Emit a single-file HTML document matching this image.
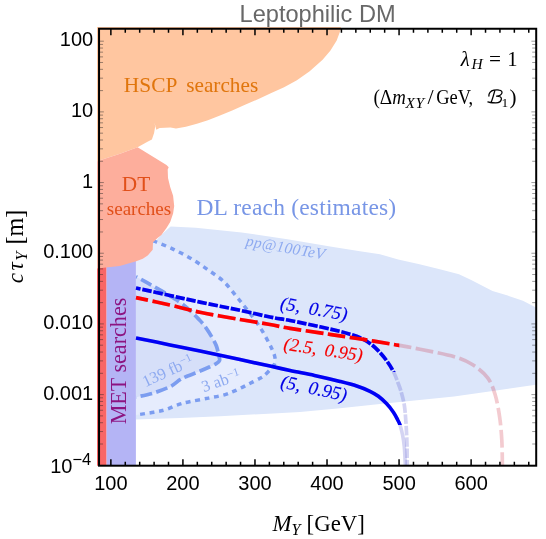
<!DOCTYPE html>
<html><head><meta charset="utf-8"><title>Leptophilic DM</title>
<style>html,body{margin:0;padding:0;background:#fff;}svg{display:block;will-change:transform;}text{white-space:pre;}</style>
</head><body>
<svg width="546" height="539" viewBox="0 0 546 539">
<defs><clipPath id="cp"><rect x="97" y="27" width="439.2" height="438.7"/></clipPath></defs>
<g clip-path="url(#cp)">
<path d="M136.0,262.0 L150.0,248.0 L160.0,236.0 L170.6,226.4 L195.8,227.8 L241.6,232.4 L287.4,239.3 L333.2,247.0 L360.0,251.2 L380.0,254.3 L398.2,259.6 L419.5,264.3 L440.8,269.5 L459.0,274.3 L471.2,280.1 L483.3,286.2 L492.5,291.1 L507.7,295.6 L522.9,300.8 L535.0,306.9 L542.0,310.5 L542.0,383.7 L534.0,384.9 L491.0,391.2 L454.0,396.5 L417.0,400.2 L380.0,404.0 L340.0,408.3 L300.0,412.0 L273.0,413.5 L220.0,416.2 L180.0,418.0 L136.0,419.6 Z" fill="#dce6fa"/>
<path d="M153.0,241.0 C153.4,241.1 151.8,240.1 155.2,241.5 C158.6,242.9 167.3,246.4 173.4,249.3 C179.5,252.2 185.8,255.4 191.6,258.9 C197.4,262.4 203.0,266.3 208.4,270.1 C213.8,273.9 219.2,277.3 224.0,281.8 C228.8,286.3 233.8,293.4 237.0,297.3 C240.2,301.2 239.8,300.3 243.5,305.1 C247.2,309.9 254.8,319.4 259.1,325.9 C263.4,332.4 267.0,339.3 269.5,344.1 C272.0,348.9 273.2,351.5 274.2,354.5 C275.1,357.5 275.6,360.1 275.2,362.3 C274.8,364.5 273.8,365.3 272.0,367.5 C270.2,369.7 266.3,373.7 264.3,375.5 C262.3,377.3 262.6,376.9 260.0,378.3 C257.4,379.7 252.8,382.0 249.0,383.9 C245.2,385.8 241.1,388.0 237.1,389.8 C233.1,391.6 229.9,393.2 225.2,394.6 C220.4,396.0 214.5,396.9 208.6,398.1 C202.7,399.3 194.7,400.6 189.5,401.7 C184.3,402.8 181.6,403.5 177.6,404.8 C173.6,406.1 169.7,408.4 165.7,409.6 C161.7,410.8 158.8,411.3 153.8,412.2 C148.9,413.1 139.0,414.5 136.0,415.0 L135.8,255 Z" fill="#e6ecfd"/>
<path d="M136.0,276.7 C138.3,278.0 145.1,281.6 150.0,284.4 C154.9,287.2 160.0,289.9 165.6,293.4 C171.2,296.8 178.2,300.7 183.8,305.1 C189.5,309.5 195.8,316.2 199.5,320.0 C203.2,323.8 203.8,324.8 206.0,327.8 C208.2,330.8 210.8,335.2 212.5,338.2 C214.2,341.2 215.3,343.0 216.4,346.0 C217.5,349.0 218.5,354.0 219.0,356.4 C219.5,358.8 220.0,359.1 219.6,360.3 C219.2,361.5 218.0,362.4 216.4,363.5 C214.8,364.6 212.7,365.5 209.9,366.8 C207.1,368.1 203.4,369.7 199.5,371.3 C195.6,372.9 189.8,375.1 186.5,376.5 C183.2,377.9 182.7,378.1 180.0,379.7 C177.3,381.3 174.9,384.2 170.5,386.4 C166.1,388.6 159.6,391.1 153.8,392.9 C148.1,394.7 139.0,396.4 136.0,397.1 Z" fill="#d6dff9"/>
<path d="M153.0,241.0 C153.4,241.1 151.8,240.1 155.2,241.5 C158.6,242.9 167.3,246.4 173.4,249.3 C179.5,252.2 185.8,255.4 191.6,258.9 C197.4,262.4 203.0,266.3 208.4,270.1 C213.8,273.9 219.2,277.3 224.0,281.8 C228.8,286.3 233.8,293.4 237.0,297.3 C240.2,301.2 239.8,300.3 243.5,305.1 C247.2,309.9 254.8,319.4 259.1,325.9 C263.4,332.4 267.0,339.3 269.5,344.1 C272.0,348.9 273.2,351.5 274.2,354.5 C275.1,357.5 275.6,360.1 275.2,362.3 C274.8,364.5 273.8,365.3 272.0,367.5 C270.2,369.7 266.3,373.7 264.3,375.5 C262.3,377.3 262.6,376.9 260.0,378.3 C257.4,379.7 252.8,382.0 249.0,383.9 C245.2,385.8 241.1,388.0 237.1,389.8 C233.1,391.6 229.9,393.2 225.2,394.6 C220.4,396.0 214.5,396.9 208.6,398.1 C202.7,399.3 194.7,400.6 189.5,401.7 C184.3,402.8 181.6,403.5 177.6,404.8 C173.6,406.1 169.7,408.4 165.7,409.6 C161.7,410.8 158.8,411.3 153.8,412.2 C148.9,413.1 139.0,414.5 136.0,415.0" fill="none" stroke="#7c9df0" stroke-width="3.5" stroke-dasharray="4.8 4.7"/>
<path d="M136.0,276.7 C138.3,278.0 145.1,281.6 150.0,284.4 C154.9,287.2 160.0,289.9 165.6,293.4 C171.2,296.8 178.2,300.7 183.8,305.1 C189.5,309.5 195.8,316.2 199.5,320.0 C203.2,323.8 203.8,324.8 206.0,327.8 C208.2,330.8 210.8,335.2 212.5,338.2 C214.2,341.2 215.3,343.0 216.4,346.0 C217.5,349.0 218.5,354.0 219.0,356.4 C219.5,358.8 220.0,359.1 219.6,360.3 C219.2,361.5 218.0,362.4 216.4,363.5 C214.8,364.6 212.7,365.5 209.9,366.8 C207.1,368.1 203.4,369.7 199.5,371.3 C195.6,372.9 189.8,375.1 186.5,376.5 C183.2,377.9 182.7,378.1 180.0,379.7 C177.3,381.3 174.9,384.2 170.5,386.4 C166.1,388.6 159.6,391.1 153.8,392.9 C148.1,394.7 139.0,396.4 136.0,397.1" fill="none" stroke="#7c9df0" stroke-width="3.7" stroke-dasharray="11.6 4.5" stroke-dashoffset="10.2"/>
<rect x="96" y="262" width="10.6" height="210" fill="#f96666"/>
<rect x="106.6" y="255" width="29.3" height="215" fill="#b4b4f5"/>
<path d="M96.0,20.0 L342.0,20.0 L340.8,28.0 L340.5,30.3 L336.7,40.5 L330.3,50.8 L322.6,59.7 L309.7,71.3 L296.9,80.3 L284.1,87.2 L271.3,93.1 L258.5,99.0 L245.6,104.6 L232.8,110.3 L220.0,115.4 L207.9,120.2 L196.9,123.7 L185.9,126.8 L176.0,128.6 L170.5,127.5 L159.6,128.1 L156.3,129.7 L154.5,122.6 L155.2,126.4 L154.1,133.0 L151.9,139.6 L147.5,141.8 L137.6,147.3 L120.0,153.8 L110.0,157.0 L96.0,161.5 Z" fill="#ffc6a0"/>
<path d="M96.0,161.5 L110.0,157.0 L120.0,153.8 L137.6,147.3 L166.5,165.0 L168.7,167.2 L167.7,169.4 L168.0,178.0 L170.2,187.0 L173.1,195.8 L174.2,206.0 L173.1,213.4 L170.2,222.1 L166.5,228.0 L161.4,235.0 L157.6,238.1 L153.0,242.2 L152.7,249.7 L147.7,255.4 L142.8,258.7 L136.2,261.2 L119.7,266.1 L96.0,268.6 Z" fill="#fdae9c"/>
<clipPath id="cbs"><rect x="90" y="20" width="460" height="404.9"/></clipPath>
<clipPath id="cbd"><rect x="90" y="20" width="460" height="351.9"/></clipPath>
<clipPath id="crd"><rect x="90" y="20" width="309.3" height="460"/></clipPath>
<path d="M136.0,338.0 C141.7,339.1 159.3,342.7 170.0,344.9 C180.7,347.1 188.3,348.6 200.0,351.0 C211.7,353.4 228.3,357.1 240.0,359.6 C251.7,362.1 261.7,364.3 270.0,366.1 C278.3,367.9 282.6,368.9 290.0,370.5 C297.4,372.1 306.2,373.6 314.5,375.4 C322.8,377.2 333.0,379.6 340.0,381.4 C347.0,383.2 351.7,384.4 356.7,386.0 C361.7,387.6 366.4,389.6 370.0,391.3 C373.6,393.0 375.6,394.2 378.4,396.3 C381.2,398.4 384.2,401.2 386.7,403.8 C389.2,406.4 391.6,409.6 393.4,412.2 C395.2,414.8 396.5,417.5 397.6,419.7 C398.7,421.9 399.3,422.6 400.1,425.2 C400.9,427.8 401.9,431.6 402.6,435.2 C403.3,438.8 403.8,441.6 404.3,446.9 C404.8,452.2 405.2,463.6 405.4,467.0" fill="none" stroke="#3c3cc8" stroke-opacity="0.22" stroke-width="3.6"/>
<path d="M136.0,338.0 C141.7,339.1 159.3,342.7 170.0,344.9 C180.7,347.1 188.3,348.6 200.0,351.0 C211.7,353.4 228.3,357.1 240.0,359.6 C251.7,362.1 261.7,364.3 270.0,366.1 C278.3,367.9 282.6,368.9 290.0,370.5 C297.4,372.1 306.2,373.6 314.5,375.4 C322.8,377.2 333.0,379.6 340.0,381.4 C347.0,383.2 351.7,384.4 356.7,386.0 C361.7,387.6 366.4,389.6 370.0,391.3 C373.6,393.0 375.6,394.2 378.4,396.3 C381.2,398.4 384.2,401.2 386.7,403.8 C389.2,406.4 391.6,409.6 393.4,412.2 C395.2,414.8 396.5,417.5 397.6,419.7 C398.7,421.9 399.3,422.6 400.1,425.2 C400.9,427.8 401.9,431.6 402.6,435.2 C403.3,438.8 403.8,441.6 404.3,446.9 C404.8,452.2 405.2,463.6 405.4,467.0" fill="none" stroke="#0000f5" stroke-width="3.6" clip-path="url(#cbs)"/>
<path d="M136.0,288.0 C141.7,289.2 159.3,293.1 170.0,295.5 C180.7,297.9 188.3,299.6 200.0,302.1 C211.7,304.6 228.3,307.8 240.0,310.3 C251.7,312.8 261.7,315.3 270.0,317.0 C278.3,318.7 281.7,318.9 290.0,320.5 C298.3,322.1 311.7,325.0 320.0,326.8 C328.3,328.6 335.0,330.2 340.0,331.4 C345.0,332.6 346.7,333.2 350.0,334.2 C353.3,335.2 356.7,336.1 360.0,337.6 C363.3,339.1 366.9,341.2 370.0,343.4 C373.1,345.6 375.6,348.0 378.4,350.9 C381.2,353.8 384.3,357.5 386.8,360.9 C389.3,364.3 391.6,368.0 393.4,371.5 C395.2,375.0 396.4,378.6 397.6,381.8 C398.9,385.1 399.8,387.1 400.9,391.0 C402.0,394.9 403.5,400.0 404.3,405.1 C405.1,410.2 405.4,414.8 405.9,421.8 C406.4,428.8 406.9,439.4 407.1,446.9 C407.3,454.4 407.1,463.6 407.1,467.0" fill="none" stroke="#3c3cc8" stroke-opacity="0.22" stroke-width="3.7" stroke-dasharray="9.5 1.8" stroke-dashoffset="4.8"/>
<path d="M136.0,288.0 C141.7,289.2 159.3,293.1 170.0,295.5 C180.7,297.9 188.3,299.6 200.0,302.1 C211.7,304.6 228.3,307.8 240.0,310.3 C251.7,312.8 261.7,315.3 270.0,317.0 C278.3,318.7 281.7,318.9 290.0,320.5 C298.3,322.1 311.7,325.0 320.0,326.8 C328.3,328.6 335.0,330.2 340.0,331.4 C345.0,332.6 346.7,333.2 350.0,334.2 C353.3,335.2 356.7,336.1 360.0,337.6 C363.3,339.1 366.9,341.2 370.0,343.4 C373.1,345.6 375.6,348.0 378.4,350.9 C381.2,353.8 384.3,357.5 386.8,360.9 C389.3,364.3 391.6,368.0 393.4,371.5 C395.2,375.0 396.4,378.6 397.6,381.8 C398.9,385.1 399.8,387.1 400.9,391.0 C402.0,394.9 403.5,400.0 404.3,405.1 C405.1,410.2 405.4,414.8 405.9,421.8 C406.4,428.8 406.9,439.4 407.1,446.9 C407.3,454.4 407.1,463.6 407.1,467.0" fill="none" stroke="#0000f0" stroke-width="3.7" stroke-dasharray="9.5 1.8" stroke-dashoffset="4.8" clip-path="url(#cbd)"/>
<path d="M136.0,297.6 C141.7,298.8 159.3,302.6 170.0,305.0 C180.7,307.4 188.3,309.9 200.0,312.3 C211.7,314.7 228.3,317.5 240.0,319.5 C251.7,321.5 261.7,323.0 270.0,324.5 C278.3,326.0 281.7,327.0 290.0,328.4 C298.3,329.8 311.7,331.6 320.0,332.8 C328.3,334.1 332.5,334.8 340.0,335.9 C347.5,337.0 356.6,338.4 365.0,339.7 C373.4,341.0 384.4,342.9 390.1,343.9 C395.8,344.8 394.3,344.5 399.3,345.4 C404.3,346.3 410.8,347.3 420.0,349.2 C429.2,351.1 445.5,354.1 454.3,356.7 C463.1,359.3 467.2,361.3 472.8,364.8 C478.4,368.3 484.0,372.9 487.7,377.8 C491.4,382.8 493.1,388.0 495.1,394.5 C497.1,401.0 498.5,409.2 499.6,416.8 C500.7,424.4 501.3,431.6 501.8,440.0 C502.3,448.4 502.3,462.5 502.4,467.0" fill="none" stroke="#c81428" stroke-opacity="0.22" stroke-width="3.7" stroke-dasharray="17.8 4.5" stroke-dashoffset="5.4"/>
<path d="M136.0,297.6 C141.7,298.8 159.3,302.6 170.0,305.0 C180.7,307.4 188.3,309.9 200.0,312.3 C211.7,314.7 228.3,317.5 240.0,319.5 C251.7,321.5 261.7,323.0 270.0,324.5 C278.3,326.0 281.7,327.0 290.0,328.4 C298.3,329.8 311.7,331.6 320.0,332.8 C328.3,334.1 332.5,334.8 340.0,335.9 C347.5,337.0 356.6,338.4 365.0,339.7 C373.4,341.0 384.4,342.9 390.1,343.9 C395.8,344.8 394.3,344.5 399.3,345.4 C404.3,346.3 410.8,347.3 420.0,349.2 C429.2,351.1 445.5,354.1 454.3,356.7 C463.1,359.3 467.2,361.3 472.8,364.8 C478.4,368.3 484.0,372.9 487.7,377.8 C491.4,382.8 493.1,388.0 495.1,394.5 C497.1,401.0 498.5,409.2 499.6,416.8 C500.7,424.4 501.3,431.6 501.8,440.0 C502.3,448.4 502.3,462.5 502.4,467.0" fill="none" stroke="#ff0000" stroke-width="3.7" stroke-dasharray="17.8 4.5" stroke-dashoffset="5.4" clip-path="url(#crd)"/>
</g>
<path d="M110.87,465.70 v-6.50 M110.87,28.75 v6.50 M125.28,465.70 v-4.00 M125.28,28.75 v4.00 M139.69,465.70 v-4.00 M139.69,28.75 v4.00 M154.10,465.70 v-4.00 M154.10,28.75 v4.00 M168.51,465.70 v-4.00 M168.51,28.75 v4.00 M182.92,465.70 v-6.50 M182.92,28.75 v6.50 M197.33,465.70 v-4.00 M197.33,28.75 v4.00 M211.74,465.70 v-4.00 M211.74,28.75 v4.00 M226.15,465.70 v-4.00 M226.15,28.75 v4.00 M240.56,465.70 v-4.00 M240.56,28.75 v4.00 M254.97,465.70 v-6.50 M254.97,28.75 v6.50 M269.38,465.70 v-4.00 M269.38,28.75 v4.00 M283.79,465.70 v-4.00 M283.79,28.75 v4.00 M298.20,465.70 v-4.00 M298.20,28.75 v4.00 M312.61,465.70 v-4.00 M312.61,28.75 v4.00 M327.02,465.70 v-6.50 M327.02,28.75 v6.50 M341.43,465.70 v-4.00 M341.43,28.75 v4.00 M355.84,465.70 v-4.00 M355.84,28.75 v4.00 M370.25,465.70 v-4.00 M370.25,28.75 v4.00 M384.66,465.70 v-4.00 M384.66,28.75 v4.00 M399.07,465.70 v-6.50 M399.07,28.75 v6.50 M413.48,465.70 v-4.00 M413.48,28.75 v4.00 M427.89,465.70 v-4.00 M427.89,28.75 v4.00 M442.30,465.70 v-4.00 M442.30,28.75 v4.00 M456.71,465.70 v-4.00 M456.71,28.75 v4.00 M471.12,465.70 v-6.50 M471.12,28.75 v6.50 M485.53,465.70 v-4.00 M485.53,28.75 v4.00 M499.94,465.70 v-4.00 M499.94,28.75 v4.00 M514.35,465.70 v-4.00 M514.35,28.75 v4.00 M528.76,465.70 v-4.00 M528.76,28.75 v4.00" stroke="#000" stroke-width="1.5" fill="none"/>
<path d="M99.04,444.00 h4.00 M536.20,444.00 h-4.00 M99.04,431.56 h4.00 M536.20,431.56 h-4.00 M99.04,422.73 h4.00 M536.20,422.73 h-4.00 M99.04,415.88 h4.00 M536.20,415.88 h-4.00 M99.04,410.28 h4.00 M536.20,410.28 h-4.00 M99.04,405.55 h4.00 M536.20,405.55 h-4.00 M99.04,401.45 h4.00 M536.20,401.45 h-4.00 M99.04,397.83 h4.00 M536.20,397.83 h-4.00 M99.04,394.60 h4.80 M536.20,394.60 h-4.80 M99.04,373.32 h4.00 M536.20,373.32 h-4.00 M99.04,360.88 h4.00 M536.20,360.88 h-4.00 M99.04,352.05 h4.00 M536.20,352.05 h-4.00 M99.04,345.20 h4.00 M536.20,345.20 h-4.00 M99.04,339.60 h4.00 M536.20,339.60 h-4.00 M99.04,334.87 h4.00 M536.20,334.87 h-4.00 M99.04,330.77 h4.00 M536.20,330.77 h-4.00 M99.04,327.15 h4.00 M536.20,327.15 h-4.00 M99.04,323.92 h4.80 M536.20,323.92 h-4.80 M99.04,302.64 h4.00 M536.20,302.64 h-4.00 M99.04,290.20 h4.00 M536.20,290.20 h-4.00 M99.04,281.37 h4.00 M536.20,281.37 h-4.00 M99.04,274.52 h4.00 M536.20,274.52 h-4.00 M99.04,268.92 h4.00 M536.20,268.92 h-4.00 M99.04,264.19 h4.00 M536.20,264.19 h-4.00 M99.04,260.09 h4.00 M536.20,260.09 h-4.00 M99.04,256.47 h4.00 M536.20,256.47 h-4.00 M99.04,253.24 h4.80 M536.20,253.24 h-4.80 M99.04,231.96 h4.00 M536.20,231.96 h-4.00 M99.04,219.52 h4.00 M536.20,219.52 h-4.00 M99.04,210.69 h4.00 M536.20,210.69 h-4.00 M99.04,203.84 h4.00 M536.20,203.84 h-4.00 M99.04,198.24 h4.00 M536.20,198.24 h-4.00 M99.04,193.51 h4.00 M536.20,193.51 h-4.00 M99.04,189.41 h4.00 M536.20,189.41 h-4.00 M99.04,185.79 h4.00 M536.20,185.79 h-4.00 M99.04,182.56 h4.80 M536.20,182.56 h-4.80 M99.04,161.28 h4.00 M536.20,161.28 h-4.00 M99.04,148.84 h4.00 M536.20,148.84 h-4.00 M99.04,140.01 h4.00 M536.20,140.01 h-4.00 M99.04,133.16 h4.00 M536.20,133.16 h-4.00 M99.04,127.56 h4.00 M536.20,127.56 h-4.00 M99.04,122.83 h4.00 M536.20,122.83 h-4.00 M99.04,118.73 h4.00 M536.20,118.73 h-4.00 M99.04,115.11 h4.00 M536.20,115.11 h-4.00 M99.04,111.88 h4.80 M536.20,111.88 h-4.80 M99.04,90.60 h4.00 M536.20,90.60 h-4.00 M99.04,78.16 h4.00 M536.20,78.16 h-4.00 M99.04,69.33 h4.00 M536.20,69.33 h-4.00 M99.04,62.48 h4.00 M536.20,62.48 h-4.00 M99.04,56.88 h4.00 M536.20,56.88 h-4.00 M99.04,52.15 h4.00 M536.20,52.15 h-4.00 M99.04,48.05 h4.00 M536.20,48.05 h-4.00 M99.04,44.43 h4.00 M536.20,44.43 h-4.00 M99.04,41.20 h4.80 M536.20,41.20 h-4.80" stroke="#222" stroke-width="0.45" fill="none"/>
<rect x="99.04" y="28.75" width="437.16" height="436.95" fill="none" stroke="#000" stroke-width="2.0"/>
<text x="110.9" y="489.6" font-family="Liberation Sans, sans-serif" font-size="20.0" text-anchor="middle" fill="#000">100</text>
<text x="182.9" y="489.6" font-family="Liberation Sans, sans-serif" font-size="20.0" text-anchor="middle" fill="#000">200</text>
<text x="255.0" y="489.6" font-family="Liberation Sans, sans-serif" font-size="20.0" text-anchor="middle" fill="#000">300</text>
<text x="327.0" y="489.6" font-family="Liberation Sans, sans-serif" font-size="20.0" text-anchor="middle" fill="#000">400</text>
<text x="399.1" y="489.6" font-family="Liberation Sans, sans-serif" font-size="20.0" text-anchor="middle" fill="#000">500</text>
<text x="471.1" y="489.6" font-family="Liberation Sans, sans-serif" font-size="20.0" text-anchor="middle" fill="#000">600</text>
<text x="93.2" y="46.4" font-family="Liberation Sans, sans-serif" font-size="20.0" text-anchor="end" fill="#000">100</text>
<text x="93.2" y="117.1" font-family="Liberation Sans, sans-serif" font-size="20.0" text-anchor="end" fill="#000">10</text>
<text x="93.2" y="187.8" font-family="Liberation Sans, sans-serif" font-size="20.0" text-anchor="end" fill="#000">1</text>
<text x="93.2" y="258.4" font-family="Liberation Sans, sans-serif" font-size="20.0" text-anchor="end" fill="#000">0.100</text>
<text x="93.2" y="329.1" font-family="Liberation Sans, sans-serif" font-size="20.0" text-anchor="end" fill="#000">0.010</text>
<text x="93.2" y="399.8" font-family="Liberation Sans, sans-serif" font-size="20.0" text-anchor="end" fill="#000">0.001</text>
<text x="91.3" y="473.4" font-family="Liberation Sans, sans-serif" font-size="20.0" text-anchor="end" fill="#000">10<tspan dy="-8" font-size="16.5">−4</tspan></text>
<text x="317.6" y="22.1" font-family="Liberation Sans, sans-serif" font-size="23.6" text-anchor="middle" fill="#686868">Leptophilic DM</text>
<text y="530.8" font-family="Liberation Serif, serif" font-size="22.8" fill="#000"><tspan x="272.6" font-style="italic">M</tspan><tspan font-style="italic" font-size="16" dy="4.5">Y</tspan><tspan x="306.6" dy="-4.5">[GeV]</tspan></text>
<text transform="translate(22.7,281.8) rotate(-90)" font-family="Liberation Serif, serif" font-size="23.3" fill="#000"><tspan x="-1.5" font-style="italic">c</tspan><tspan x="11.2" font-style="italic">τ</tspan><tspan x="21" font-style="italic" font-size="16.5" dy="4.5">Y</tspan><tspan x="37.2" dy="-4.5" font-size="24.2">[m]</tspan></text>
<text x="123.8" y="91.8" font-family="Liberation Serif, serif" font-size="21.5" textLength="53.6" lengthAdjust="spacingAndGlyphs" fill="#e0750c">HSCP</text>
<text x="186.2" y="91.8" font-family="Liberation Serif, serif" font-size="21.5" textLength="72" lengthAdjust="spacingAndGlyphs" fill="#e0750c">searches</text>
<text x="136" y="190.8" font-family="Liberation Serif, serif" font-size="21.3" text-anchor="middle" fill="#e1501a">DT</text>
<text x="139" y="214.8" font-family="Liberation Serif, serif" font-size="19" text-anchor="middle" fill="#e1501a">searches</text>
<text x="196.4" y="215" font-family="Liberation Serif, serif" font-size="23.5" textLength="199.8" lengthAdjust="spacing" fill="#7896e6">DL reach (estimates)</text>
<text transform="translate(245.3,245.6) rotate(10)" font-family="Liberation Serif, serif" font-size="15.6" font-style="italic" letter-spacing="0.35" fill="#8eaaf0">pp@100TeV</text>
<text transform="translate(145.4,387.3) rotate(-25)" font-family="Liberation Serif, serif" font-size="16.3" fill="#8eaaf0">139 fb<tspan dy="-5" font-size="11.5">−1</tspan></text>
<text transform="translate(203.8,392.3) rotate(-19)" font-family="Liberation Serif, serif" font-size="16.3" fill="#8eaaf0">3 ab<tspan dy="-5" font-size="11.5">−1</tspan></text>
<text transform="translate(279.6,308.9) rotate(10)" font-family="Liberation Serif, serif" font-size="18.7" font-style="italic" word-spacing="4" fill="#0000e6" stroke="#0000e6" stroke-width="0.15">(5, 0.75)</text>
<text transform="translate(283,349.5) rotate(8.5)" font-family="Liberation Serif, serif" font-size="18.3" font-style="italic" word-spacing="3.5" fill="#f50000" stroke="#f50000" stroke-width="0.15">(2.5, 0.95)</text>
<text transform="translate(279.8,387.3) rotate(12)" font-family="Liberation Serif, serif" font-size="18.7" font-style="italic" word-spacing="3.4" fill="#0000e6" stroke="#0000e6" stroke-width="0.15">(5, 0.95)</text>
<text transform="translate(125.8,424.3) rotate(-90)" font-family="Liberation Serif, serif" font-size="22.1" fill="#8c1482">MET searches</text>
<text y="65.6" font-family="Liberation Serif, serif" font-size="20.6" fill="#000"><tspan x="460.8" font-style="italic">λ</tspan><tspan x="471.4" font-style="italic" font-size="15.5" dy="3.5">H</tspan><tspan x="489" dy="-3.5" textLength="12" lengthAdjust="spacingAndGlyphs">=</tspan><tspan x="507.2">1</tspan></text>
<text y="104.3" font-family="Liberation Serif, serif" font-size="21" fill="#000"><tspan x="373.4" textLength="18.8" lengthAdjust="spacingAndGlyphs">(Δ</tspan><tspan x="392.3" font-style="italic" textLength="13.6" lengthAdjust="spacingAndGlyphs">m</tspan><tspan x="405.6" font-style="italic" font-size="15.5" dy="3.5" letter-spacing="0.4">XY</tspan><tspan x="427.6" dy="-3.5" font-size="22">/</tspan><tspan x="436.2" textLength="37" lengthAdjust="spacingAndGlyphs">GeV,</tspan><tspan x="501.6" font-size="13.5" dy="2.3">1</tspan><tspan x="509.6" dy="-2.3">)</tspan></text>
<path d="M488.9,96 C488.6,93.5 490.5,90.7 493.9,90.2 C496,89.9 498,89.9 499.1,90.1 C501.3,90.4 502.4,91.7 501.9,93.1 C501.3,94.9 499.2,95.9 496.6,96.1 C499.5,96.1 501.6,97 501.4,98.9 C501.1,101.4 498.6,102.9 495.8,102.9 C493.5,102.9 491.5,102.8 490.2,102.5 C489.2,102.3 488.4,102.1 487.9,101.9 M494.8,90.6 C493.9,94 492.5,99 491.1,102.5" fill="none" stroke="#000" stroke-width="1.3" stroke-linecap="round" stroke-linejoin="round"/>
</svg>
</body></html>
